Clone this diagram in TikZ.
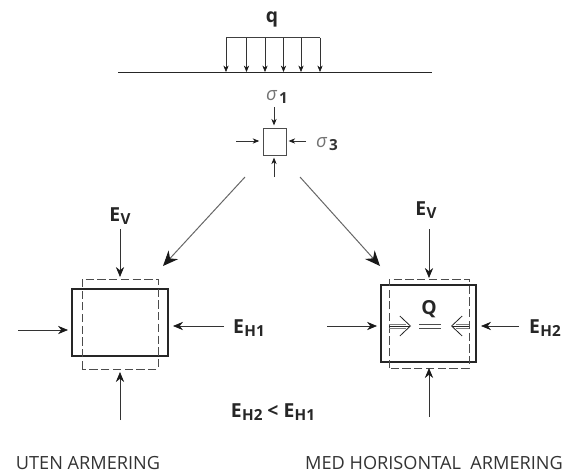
\documentclass[tikz,border=0pt]{standalone}
\usepackage{fontspec}
\setmainfont{Open Sans}
\usepackage{tikz}
\usepackage{xcolor}
\usetikzlibrary{arrows.meta}
\newcommand{\Elab}[1]{E\kern0.3pt\raisebox{-3pt}{\fontsize{13}{15}\selectfont #1}}
\newcommand{\Sgm}[1]{\textit{σ}\kern1.5pt\raisebox{-2.5pt}{\fontsize{13}{15}\selectfont\color{black!80}\bfseries #1}}
\tikzset{
  force/.style={draw=black!80,line width=0.55pt,-{Stealth[length=8.5pt,width=7pt,black!90]}},
  smallforce/.style={draw=black!80,line width=0.5pt,-{Stealth[length=5.5pt,width=4.5pt,black!90]}},
  bigforce/.style={draw=black!60,line width=0.85pt,-{Stealth[length=13pt,width=11pt,black!90]}},
  openforce/.style={draw=black!85,line width=0.7pt,-{Straight Barb[length=9pt,width=17pt]}},
  wall/.style={draw=black!85,line width=1pt,inner sep=0pt,minimum width=#1},
  deformed/.style={draw=black!70,line width=0.6pt,dash pattern=on 7pt off 3pt},
  label/.style={inner sep=0pt,font=\fontsize{16.5}{19}\selectfont\bfseries,text=black!85},
  stress/.style={inner sep=0pt,font=\fontsize{16}{18}\selectfont,text=black!55},
  caption/.style={inner sep=0pt,font=\fontsize{15.5}{18}\selectfont,text=black!80}
}
\begin{document}
\begin{tikzpicture}[x=0.03cm,y=-0.03cm]
\useasboundingbox (0,0) rectangle (564,475);
% load on the surface
\node[label] (q) at (272,19) {q};
\coordinate (gl) at (118,72.5);
\coordinate (gr) at (432,72.5);
\draw[line width=0.9pt,black!85] (gl) -- (gr);
\coordinate (qa) at (226,37.5);
\coordinate (qb) at (320,37.5);
\draw[line width=0.5pt,black!75] (qa) -- (qb);
\foreach \i/\x in {1/226,2/246.5,3/265,4/283.5,5/301,6/320} {
  \coordinate (qt\i) at (\x,37.5);
  \coordinate (qe\i) at (\x,72);
  \draw[smallforce] (qt\i) -- (qe\i);
}
% stress element
\node[draw=black!70,line width=0.6pt,minimum width=0.69cm,minimum height=0.81cm,inner sep=0pt] (elem) at (274.5,141.5) {};
\node[stress] (s1) at (277,97) {\Sgm{1}};
\node[stress] (s3) at (327,144) {\Sgm{3}};
\coordinate (et) at (274,107);
\coordinate (eb) at (274,177);
\coordinate (el) at (236,141);
\coordinate (er) at (306,141);
\draw[smallforce,shorten >=2pt] (et) -- (elem.north -| et);
\draw[smallforce,shorten >=2pt] (eb) -- (elem.south -| eb);
\draw[smallforce,shorten >=3pt] (el) -- (elem.west |- el);
\draw[smallforce,shorten >=2pt] (er) -- (elem.east |- er);
% the two cases
\coordinate (al) at (245,177);
\coordinate (ar) at (300,177);
\coordinate (tl) at (163,266);
\coordinate (tr) at (380,266);
\draw[bigforce] (al) -- (tl);
\draw[bigforce] (ar) -- (tr);
% left case
\node[wall=2.88cm,minimum height=2.01cm] (lbox) at (120,322.5) {};
\draw[deformed] (82,369) rectangle (158,279);
\node[label] (lev) at (120,216) {\Elab{V}};
\node[label] (leh) at (249,328) {\Elab{H1}};
\coordinate (lt) at (120,229);
\coordinate (lte) at (120,277);
\coordinate (lb) at (120,420);
\coordinate (lbe) at (120,372);
\coordinate (ll) at (18,330);
\coordinate (lle) at (68,330);
\coordinate (lr) at (224,326);
\coordinate (lre) at (173,326);
\draw[force] (lt) -- (lte);
\draw[force] (lb) -- (lbe);
\draw[force] (ll) -- (lle);
\draw[force] (lr) -- (lre);
% right case
\node[wall=2.85cm,minimum height=2.31cm] (rbox) at (428.5,323.5) {};
\draw[deformed] (389,368) rectangle (469,279);
\node[label] (rev) at (426,210) {\Elab{V}};
\node[label] (reh) at (545,328) {\Elab{H2}};
\node[label] (Q) at (429,309) {Q};
\coordinate (rt) at (429,229);
\coordinate (rte) at (429,278);
\coordinate (rb) at (429,417);
\coordinate (rbe) at (429,368);
\coordinate (rl) at (327,326);
\coordinate (rle) at (377,326);
\coordinate (rr) at (519,326);
\coordinate (rre) at (481,326);
\draw[force] (rt) -- (rte);
\draw[force] (rb) -- (rbe);
\draw[force] (rl) -- (rle);
\draw[force] (rr) -- (rre);
% friction in the reinforcement
\coordinate (il) at (389,326);
\coordinate (ile) at (411,326);
\coordinate (ir) at (469,326);
\coordinate (ire) at (451,326);
\draw[openforce] (il) -- (ile);
\draw[openforce] (ir) -- (ire);
\draw[black!50,line width=0.4pt] (389,324) -- (406,324) (389,328) -- (406,328);
\draw[black!50,line width=0.4pt] (469,324) -- (456,324) (469,328) -- (456,328);
\draw[black!70,line width=0.5pt] (419,324.5) -- (441,324.5) (419,328) -- (441,328);
% texts
\node[label] (cmp) at (273,412) {\Elab{H2} < \Elab{H1}};
\node[caption] (capl) at (88,463) {UTEN ARMERING};
\node[caption] (capr) at (434,463) {MED HORISONTAL\ \ ARMERING};
\end{tikzpicture}
\end{document}
